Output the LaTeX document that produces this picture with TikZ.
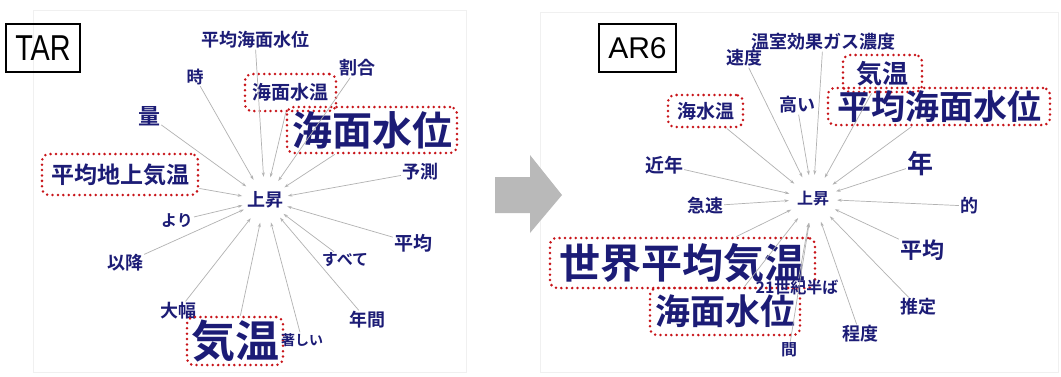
\documentclass[tikz,border=0pt]{standalone}
\usepackage{fontspec}
\setmainfont{Liberation Sans}
\newfontfamily\jp{Noto Sans CJK JP}[BoldFont={Noto Sans CJK JP Bold}]
\usetikzlibrary{arrows.meta}
\definecolor{navy}{RGB}{28,28,118}
\definecolor{dotred}{RGB}{200,20,25}
\definecolor{arrowgray}{RGB}{185,185,185}
\newcommand\fsb[1]{\jp\bfseries\fontsize{#1}{#1}\selectfont}
\newcommand\fsr[1]{\jp\bfseries\fontsize{#1}{#1}\selectfont}
\begin{document}
\begin{tikzpicture}[x=1pt,y=-1pt,
  lab/.style={text=navy, inner sep=1pt},
  dbox/.style={draw=dotred, line width=2.8pt, dash pattern=on 0pt off 5.4pt, line cap=round, rounded corners=7pt, inner sep=0pt},
  conn/.style={draw=gray!60, line width=0.7pt, -{Stealth[length=4.5pt,width=3pt]}},
  hub/.style={circle, minimum size=#1, inner sep=0pt},
  tagbox/.style={draw=black, line width=1.2pt, minimum width=#1, minimum height=48pt, inner sep=0pt, font=\fontsize{30}{30}\selectfont},
  panel/.style={draw=gray!12, line width=0.8pt}
]
\useasboundingbox (0,0) rectangle (1061,376);
\fill[white] (0,0) rectangle (1061,376);
\draw[panel] (33,10) rectangle (466,372);
\draw[panel] (540,12) rectangle (1058,372);

% tags
\node[tagbox=74pt] (tar) at (43,48) {\scalebox{0.8}[1]{\fontsize{36}{36}\selectfont TAR}};
\node[tagbox=77pt] (ar6) at (637.5,48) {AR6};

% arrow
\fill[arrowgray] (495,177) -- (530,177) -- (530,155) -- (562,195) -- (530,233) -- (530,213) -- (495,213) -- cycle;

% ---------- left (TAR) ----------
\node[hub=46pt] (cL) at (265,200) {};
\node[lab,font=\fsb{18}] (cLt) at (265,200) {上昇};
\node[lab,font=\fsb{18}] (l1) at (255,40) {平均海面水位};
\node[lab,font=\fsb{17}] (l2) at (195,77) {時};
\node[lab,font=\fsb{18}] (l3) at (357,68) {割合};
\node[lab,dbox,font=\fsb{19},minimum width=91pt,minimum height=37pt] (l4) at (290.5,92.5) {海面水温};
\node[lab,dbox,font=\fsr{40},minimum width=170pt,minimum height=46pt] (l5) at (372,130) {海面水位};
\node[lab,font=\fsb{22}] (l6) at (149,116) {量};
\node[lab,dbox,font=\fsb{23},minimum width=156pt,minimum height=41pt] (l7) at (120,174.5) {平均地上気温};
\node[lab,font=\fsb{18}] (l8) at (420,172) {予測};
\node[lab,font=\fsb{16}] (l9) at (177,221) {より};
\node[lab,font=\fsb{18}] (l10) at (125,263) {以降};
\node[lab,font=\fsb{19}] (l11) at (413,243) {平均};
\node[lab,font=\fsb{16}] (l12) at (345,260) {すべて};
\node[lab,font=\fsb{18}] (l13) at (367,320) {年間};
\node[lab,font=\fsb{18}] (l14) at (178,311) {大幅};
\node[lab,dbox,font=\fsr{44},minimum width=96pt,minimum height=48pt] (l15) at (235,341) {気温};
\node[lab,font=\fsb{14}] (l16) at (302,340) {著しい};
\foreach \n in {l1,l2,l3,l4,l5,l6,l7,l8,l9,l10,l11,l12,l13,l14,l15,l16}
  \draw[conn] (\n) -- (cL);

% ---------- right (AR6) ----------
\node[hub=48pt] (cR) at (813,199) {};
\node[lab,font=\fsb{16}] (cRt) at (813,199) {上昇};
\node[lab,font=\fsb{18}] (r1) at (823,42) {温室効果ガス濃度};
\node[lab,font=\fsb{18}] (r2) at (744,58) {速度};
\node[lab,dbox,font=\fsb{26},minimum width=79pt,minimum height=37pt] (r3) at (882.5,73.5) {気温};
\node[lab,dbox,font=\fsr{34},minimum width=222pt,minimum height=37pt] (r4) at (939,106.5) {平均海面水位};
\node[lab,dbox,font=\fsb{19},minimum width=75pt,minimum height=32pt] (r5) at (705.5,111) {海水温};
\node[lab,font=\fsb{18}] (r6) at (797,105) {高い};
\node[lab,font=\fsb{26}] (r7) at (920,164) {年};
\node[lab,font=\fsb{19}] (r8) at (664,165) {近年};
\node[lab,font=\fsb{18}] (r9) at (969,206) {的};
\node[lab,font=\fsb{18}] (r10) at (705,206) {急速};
\node[lab,dbox,font=\fsr{41},minimum width=265pt,minimum height=50pt] (r11) at (682.5,263) {世界平均気温};
\node[lab,dbox,font=\fsr{35},minimum width=150pt,minimum height=47pt] (r12) at (725,311.5) {海面水位};
\node[lab,font=\fsb{16}] (r13) at (797,287) {21世紀半ば};
\node[lab,font=\fsb{16}] (r14) at (789,350) {間};
\node[lab,font=\fsb{22}] (r15) at (922,250) {平均};
\node[lab,font=\fsb{18}] (r16) at (918,307) {推定};
\node[lab,font=\fsb{18}] (r17) at (860,334) {程度};
\foreach \n in {r1,r2,r3,r4,r5,r6,r7,r8,r9,r10,r11,r12,r13,r14,r15,r16,r17}
  \draw[conn] (\n) -- (cR);
\end{tikzpicture}
\end{document}
